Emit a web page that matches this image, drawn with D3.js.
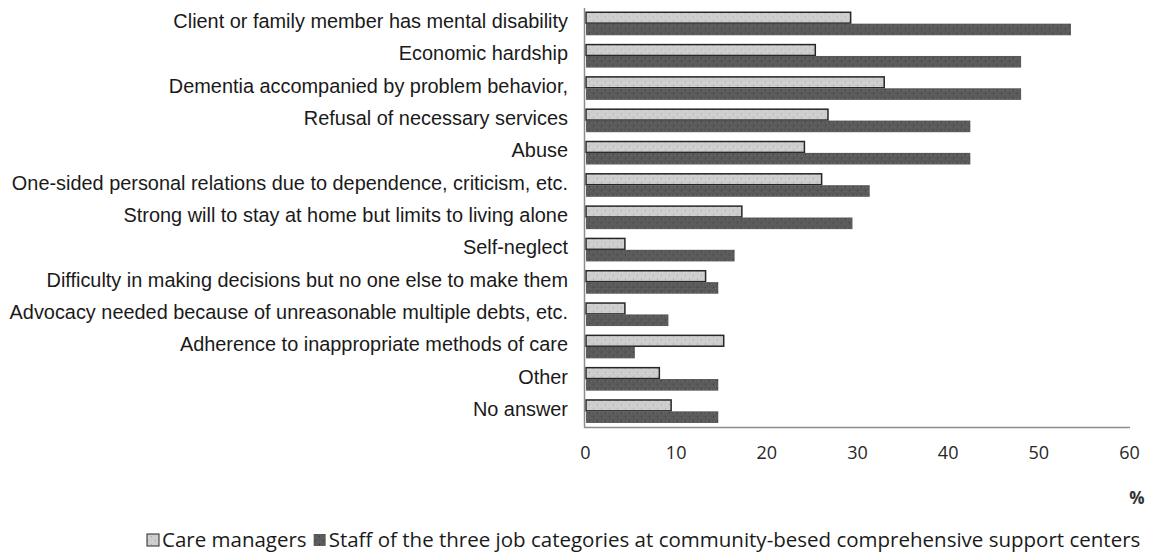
<!DOCTYPE html>
<html>
<head>
<meta charset="utf-8">
<script src="https://cdn.jsdelivr.net/npm/d3@7/dist/d3.min.js"></script>
<style>
  html, body { margin: 0; padding: 0; background: #ffffff; }
  svg { display: block; }
</style>
</head>
<body>
<svg id="chart" width="1161" height="554"></svg>
<script>
const categories = [
  "Client or family member has mental disability",
  "Economic hardship",
  "Dementia accompanied by problem behavior,",
  "Refusal of necessary services",
  "Abuse",
  "One-sided personal relations due to dependence, criticism, etc.",
  "Strong will to stay at home but limits to living alone",
  "Self-neglect",
  "Difficulty in making decisions but no one else to make them",
  "Advocacy needed because of unreasonable multiple debts, etc.",
  "Adherence to inappropriate methods of care",
  "Other",
  "No answer"
];
const careManagers = [29.3, 25.4, 33.0, 26.8, 24.2, 26.1, 17.3, 4.4, 13.3, 4.4, 15.3, 8.2, 9.5];
const staffCenters = [53.6, 48.1, 48.1, 42.5, 42.5, 31.4, 29.5, 16.5, 14.7, 9.2, 5.5, 14.7, 14.7];
const seriesNames = ["Care managers", "Staff of the three job categories at community-besed comprehensive support centers"];
const xTicks = [0, 10, 20, 30, 40, 50, 60];
const axisUnit = "%";

const svg = d3.select("#chart");
const defs = svg.append("defs");

function makePattern(id, base, dot1, dot2) {
  const p = defs.append("pattern").attr("id", id)
    .attr("patternUnits", "userSpaceOnUse").attr("width", 8).attr("height", 8);
  p.append("rect").attr("width", 8).attr("height", 8).attr("fill", base);
  [[1,1],[5,5]].forEach(([x,y]) => p.append("rect").attr("x", x).attr("y", y).attr("width", 1).attr("height", 1).attr("fill", dot1));
  [[3,2],[7,6],[2,6],[6,2]].forEach(([x,y]) => p.append("rect").attr("x", x).attr("y", y).attr("width", 1).attr("height", 1).attr("fill", dot2));
}
makePattern("patLight", "#cdcdcd", "#a9a9a9", "#dcdcdc");
makePattern("patDark", "#5a5a5a", "#3c3c3c", "#6c6c6c");

const x = d3.scaleLinear().domain([0, 60]).range([585, 1129]);
const y = d3.scaleBand().domain(categories).range([7, 427]).paddingInner(0.28).paddingOuter(0.14);
const sub = d3.scaleBand().domain([0, 1]).range([0, y.bandwidth()]);

// bars
const g = svg.append("g");
const rows = g.selectAll("g.row").data(categories).join("g")
  .attr("class", "row").attr("transform", d => `translate(0,${y(d)})`);

rows.append("rect")
  .attr("x", x(0) + 1)
  .attr("y", sub(0) + 0.75)
  .attr("width", (d, i) => x(careManagers[i]) - x(0) - 1)
  .attr("height", sub.bandwidth() - 0.75)
  .attr("fill", "url(#patLight)")
  .attr("stroke", "#262626")
  .attr("stroke-width", 1.5);

rows.append("rect")
  .attr("x", x(0) + 1)
  .attr("y", sub(1) + 0.5)
  .attr("width", (d, i) => x(staffCenters[i]) - x(0) - 1)
  .attr("height", sub.bandwidth())
  .attr("fill", "url(#patDark)");

// category labels
svg.append("g").selectAll("text").data(categories).join("text")
  .attr("x", 568)
  .attr("y", d => y(d) + y.bandwidth() / 2 - 2)
  .attr("dy", "0.35em")
  .attr("text-anchor", "end")
  .attr("font-family", "'Liberation Sans', Arial, sans-serif")
  .attr("font-size", 19.9)
  .attr("fill", "#1a1a1a")
  .text(d => d);

// axes lines
svg.append("line").attr("x1", 584.5).attr("x2", 584.5).attr("y1", 8).attr("y2", 427.5)
  .attr("stroke", "#8c8c8c").attr("stroke-width", 1.5);
svg.append("line").attr("x1", 584).attr("x2", 1130).attr("y1", 427.5).attr("y2", 427.5)
  .attr("stroke", "#8c8c8c").attr("stroke-width", 1.5);

// x tick labels
const xAxis = d3.axisBottom(x).tickValues(xTicks).tickSize(0).tickPadding(0);
const ax = svg.append("g").attr("transform", "translate(0,446)").call(xAxis);
ax.select(".domain").remove();
ax.selectAll("text")
  .attr("font-family", "'Open Sans', 'Noto Sans', sans-serif")
  .attr("font-size", 18)
  .attr("fill", "#262626");

svg.append("text").attr("x", 1137).attr("y", 504)
  .attr("text-anchor", "middle")
  .attr("font-family", "'Open Sans', sans-serif")
  .attr("font-size", 17).attr("font-weight", "bold").attr("fill", "#333")
  .text(axisUnit);

// legend
const leg = svg.append("g").attr("transform", "translate(146,547)");
const legFont = "'Open Sans', 'Noto Sans', sans-serif";
const legSize = 20.5;
leg.append("rect").attr("x", 1).attr("y", -13).attr("width", 12).attr("height", 12)
  .attr("fill", "url(#patLight)").attr("stroke", "#262626").attr("stroke-width", 1);
const t1 = leg.append("text").attr("x", 16).attr("y", 0)
  .attr("font-family", legFont).attr("font-size", legSize).attr("fill", "#1a1a1a")
  .text(seriesNames[0]);
const w1 = t1.node().getComputedTextLength();
const lx2 = 16 + w1 + 7;
leg.append("rect").attr("x", lx2).attr("y", -13).attr("width", 12).attr("height", 12)
  .attr("fill", "url(#patDark)");
leg.append("text").attr("x", lx2 + 15).attr("y", 0)
  .attr("font-family", legFont).attr("font-size", legSize).attr("fill", "#1a1a1a")
  .text(seriesNames[1]);
</script>
</body>
</html>
